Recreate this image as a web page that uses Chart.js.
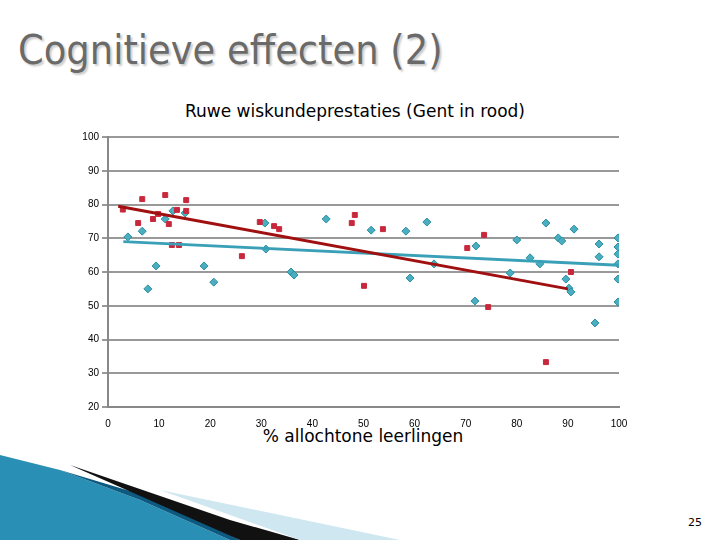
<!DOCTYPE html><html><head><meta charset="utf-8"><script src="https://cdn.jsdelivr.net/npm/chart.js"></script>
<style>body{margin:0;width:720px;height:540px;background:#fff;position:relative;overflow:hidden;font-family:"DejaVu Sans",sans-serif}
#t{position:absolute;left:18px;top:26px;font-size:41px;font-family:"DejaVu Sans Condensed","DejaVu Sans",sans-serif;font-stretch:condensed;color:#6a6a6a;text-shadow:2px 2px 2px #ccc}
#st{position:absolute;left:0;width:710px;top:101px;text-align:center;font-size:17px;color:#000}
#xt{position:absolute;left:0;width:726px;top:426px;text-align:center;font-size:17px}
#pg{position:absolute;left:688px;top:516px;font-size:11px}
#c{position:absolute;left:60px;top:100px;width:580px;height:350px}
svg{position:absolute;left:0;top:0}</style></head><body>
<svg width="720" height="540"><polygon points="0,455 60,470 140,500 230,540 0,540" fill="#2a8fb5"/><polygon points="60,470 160,500 240,540 230,540 140,500" fill="#0d5a80"/><polygon points="70,465 230,520 300,540 240,540" fill="#111"/><polygon points="160,490 400,540 300,540" fill="#cfe7f1"/></svg>
<div id="t">Cognitieve effecten (2)</div><div id="st">Ruwe wiskundeprestaties (Gent in rood)</div><div id="xt">% allochtone leerlingen</div><div id="pg">25</div>
<div id="c"><canvas id="cv"></canvas></div>
<script>
const redX=[2.9,5.9,6.7,8.8,11.2,9.8,11.9,13.5,15.3,15.3,12.5,13.9,26.2,29.7,32.5,33.5,48.3,47.7,50.1,53.8,70.3,73.6,74.4,90.6,85.7];
const redY=[78.5,74.5,81.6,75.7,82.8,77.2,74.2,78.4,81.3,78.1,68,68,64.7,74.8,73.6,72.7,76.9,74.5,55.9,72.7,67.1,71,49.6,60,33.3];
const blueX=[3.9,6.7,7.8,9.4,11.2,12.7,15.1,18.8,20.7,30.7,30.9,35.8,36.4,42.7,51.5,58.3,62.4,59.1,63.8,71.8,72,80,78.7,82.6,84.5,85.7,88.1,88.8,91.2,89.6,90.2,90.6,95.3,96.1,96.1,99.8,99.8,99.8,99.8,99.8,99.8];
const blueY=[70.4,72.1,55,61.8,75.7,78.1,77.5,61.8,57,74.5,66.8,60,59.1,75.7,72.4,72.1,74.8,58.2,62.4,51.4,67.7,69.5,59.7,64.2,62.4,74.5,70.1,69.2,72.7,57.9,55.2,54.1,44.9,68.3,64.5,70.1,67.4,65.3,62.4,57.9,51.1];
const redTrend=[[2,79.5],[90,55]];
const blueTrend=[[3,69],[100,62]];
const yTicks=[20,30,40,50,60,70,80,90,100];
const pts=(xs,ys)=>xs.map((x,i)=>({x,y:ys[i]}));
const tr=a=>a.map(p=>({x:p[0],y:p[1]}));
new Chart(document.getElementById('cv'),{type:'scatter',data:{datasets:[
{data:tr(redTrend),showLine:true,borderColor:'#a01010',borderWidth:3,pointRadius:0,order:0},
{data:tr(blueTrend),showLine:true,borderColor:'#3aa0b8',borderWidth:3,pointRadius:0,order:0},
{data:pts(redX,redY),pointStyle:'rect',pointRadius:3.5,backgroundColor:'#c8283c',borderColor:'#c8283c',order:1},
{data:pts(blueX,blueY),pointStyle:'rectRot',pointRadius:4,backgroundColor:'#4aaec0',borderColor:'#2a8ea0',borderWidth:1,order:1}]},
options:{animation:false,responsive:true,maintainAspectRatio:false,layout:{padding:{top:37,right:21}},
plugins:{legend:{display:false},tooltip:{enabled:false}},
scales:{x:{min:0,max:100,afterFit:s=>{s.height=43},ticks:{stepSize:10,color:'#000',font:{size:10},maxRotation:0},grid:{display:false},border:{color:'#888',width:2}},
y:{min:20,max:100,afterFit:s=>{s.width=48},afterBuildTicks:s=>{s.ticks=yTicks.map(v=>({value:v}))},ticks:{color:'#000',font:{size:10}},grid:{color:'#999',lineWidth:2,drawTicks:true,tickLength:6},border:{color:'#888',width:2}}}}});
</script></body></html>
